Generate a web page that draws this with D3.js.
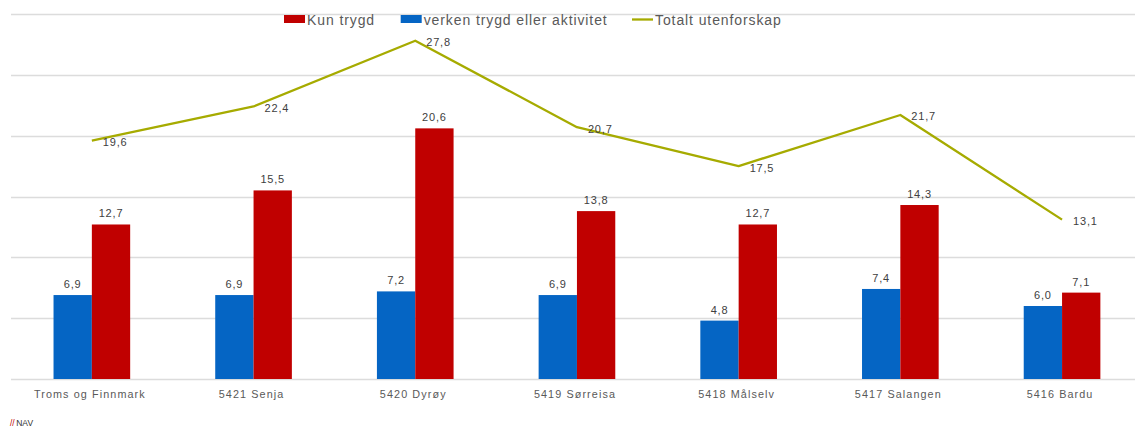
<!DOCTYPE html>
<html>
<head>
<meta charset="utf-8">
<script src="https://cdn.jsdelivr.net/npm/d3@7"></script>
<style>
	body { margin: 0; background: #fff; }
	svg { display: block; font-family: "Liberation Sans", Arial, sans-serif; }
</style>
</head>
<body>
<div id="chart"></div>
<script>
var CHART_WIDTH = 1135;
var CHART_HEIGHT = 427;

// data
var categories = ["Troms og Finnmark", "5421 Senja", "5420 Dyrøy", "5419 Sørreisa", "5418 Målselv", "5417 Salangen", "5416 Bardu"];
var verkenValues = [6.9, 6.9, 7.2, 6.9, 4.8, 7.4, 6.0];
var kunTrygdValues = [12.7, 15.5, 20.6, 13.8, 12.7, 14.3, 7.1];
var totaltValues = [19.6, 22.4, 27.8, 20.7, 17.5, 21.7, 13.1];
var yTicks = [0, 5, 10, 15, 20, 25, 30];
var seriesNames = ["verken trygd eller aktivitet", "Kun trygd"];
var legendNames = ["Kun trygd", "verken trygd eller aktivitet", "Totalt utenforskap"];

var BLUE = "#0565c4";
var RED = "#c00000";
var GREEN = "#a6ab00";
var TEXT = "#595959";

var fmt = function (v) { return d3.format(".1f")(v).replace(".", ","); };

var svg = d3.select("#chart")
	.append("svg")
	.attr("width", CHART_WIDTH)
	.attr("height", CHART_HEIGHT);

svg.append("rect")
	.attr("width", CHART_WIDTH)
	.attr("height", CHART_HEIGHT)
	.attr("fill", "#fff");

// scales
var plotLeft = 11;
var x0 = d3.scaleBand().domain(categories).range([plotLeft, plotLeft + 7 * 161.7]);
var barWidth = x0.bandwidth() * 0.237;
var x1 = d3.scaleBand().domain(seriesNames)
	.range([x0.bandwidth() / 2 - barWidth, x0.bandwidth() / 2 + barWidth]);
var y = d3.scaleLinear().domain([0, 30]).range([379, 14]);

// grid
svg.selectAll(".grid")
	.data(yTicks)
	.join("line")
	.attr("class", "grid")
	.attr("x1", plotLeft)
	.attr("x2", CHART_WIDTH)
	.attr("y1", d => Math.round(y(d)) + 0.5)
	.attr("y2", d => Math.round(y(d)) + 0.5)
	.attr("stroke", "#dcdcdc")
	.attr("stroke-width", 1.3);

// bars
var rows = categories.map((c, i) => ({
	cat: c,
	values: [
		{ key: seriesNames[0], value: verkenValues[i], color: BLUE },
		{ key: seriesNames[1], value: kunTrygdValues[i], color: RED }
	]
}));

var groups = svg.selectAll(".group")
	.data(rows)
	.join("g")
	.attr("class", "group")
	.attr("transform", d => `translate(${x0(d.cat)},0)`);

groups.selectAll("rect")
	.data(d => d.values)
	.join("rect")
	.attr("x", d => x1(d.key))
	.attr("y", d => y(d.value))
	.attr("width", x1.bandwidth())
	.attr("height", d => y(0) - y(d.value))
	.attr("fill", d => d.color);

groups.selectAll(".bar-label")
	.data(d => d.values)
	.join("text")
	.attr("class", "bar-label")
	.attr("x", d => x1(d.key) + x1.bandwidth() / 2)
	.attr("y", d => y(d.value) - 7)
	.attr("text-anchor", "middle")
	.attr("fill", "#404040")
	.style("font-size", "11px")
	.style("letter-spacing", "0.8px")
	.text(d => fmt(d.value));

// line
var cx = c => x0(c) + x0.bandwidth() / 2;
var line = d3.line()
	.x((d, i) => cx(categories[i]))
	.y(d => y(d));

svg.append("path")
	.datum(totaltValues)
	.attr("d", line)
	.attr("fill", "none")
	.attr("stroke", GREEN)
	.attr("stroke-width", 2.3)
	.attr("stroke-linejoin", "round");

svg.selectAll(".line-label")
	.data(totaltValues)
	.join("text")
	.attr("class", "line-label")
	.attr("x", (d, i) => cx(categories[i]) + 11)
	.attr("y", d => y(d) + 5.5)
	.attr("fill", "#404040")
	.style("font-size", "11px")
	.style("letter-spacing", "0.8px")
	.text(d => fmt(d));

// category labels
svg.selectAll(".cat-label")
	.data(categories)
	.join("text")
	.attr("class", "cat-label")
	.attr("x", d => cx(d) - 2)
	.attr("y", 398)
	.attr("text-anchor", "middle")
	.attr("fill", TEXT)
	.style("font-size", "10.8px")
	.style("letter-spacing", "1.1px")
	.text(d => d);

// legend
var legendX = [284, 400.7, 632];
var legendColors = [RED, BLUE, GREEN];
var legend = svg.selectAll(".legend")
	.data(legendNames)
	.join("g")
	.attr("class", "legend")
	.attr("transform", (d, i) => `translate(${legendX[i]},0)`);

legend.each(function (d, i) {
	var g = d3.select(this);
	if (i < 2) {
		g.append("rect")
			.attr("x", 0).attr("y", 15)
			.attr("width", 21).attr("height", 8)
			.attr("fill", legendColors[i]);
	} else {
		g.append("line")
			.attr("x1", 0).attr("x2", 21)
			.attr("y1", 19.5).attr("y2", 19.5)
			.attr("stroke", legendColors[i])
			.attr("stroke-width", 2.3);
	}
	g.append("text")
		.attr("x", 23)
		.attr("y", 24.5)
		.attr("fill", TEXT)
		.style("font-size", "14px")
		.style("letter-spacing", "0.9px")
		.text(d);
});

// footer
var foot = svg.append("text")
	.attr("x", 10)
	.attr("y", 426)
	.style("font-size", "8.5px");
foot.append("tspan").attr("fill", RED).text("//");
foot.append("tspan").attr("fill", "#333").attr("dx", 1.5).text("NAV");
</script>
</body>
</html>
